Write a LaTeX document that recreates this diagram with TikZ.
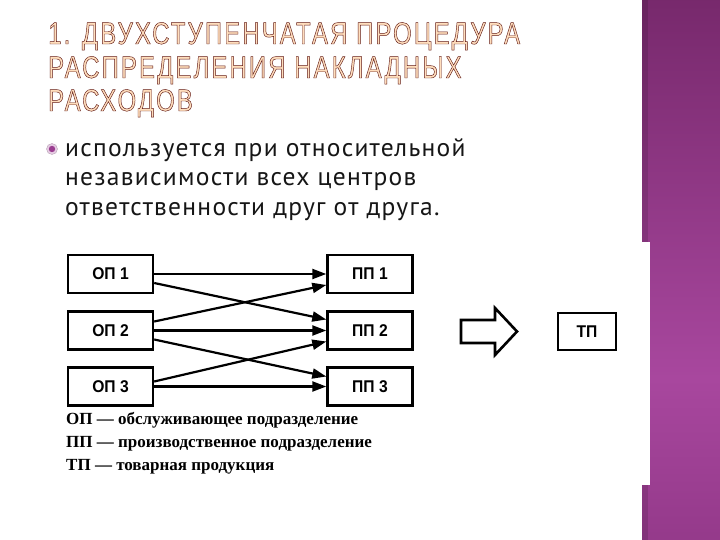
\documentclass[tikz,border=0pt]{standalone}
\usepackage{fontspec}
\setmainfont{Liberation Serif}
\newfontfamily\titlefont{Liberation Sans}[FakeStretch=0.77,LetterSpace=7]
\newfontfamily\bodyfont{PT Sans}[LetterSpace=5]
\newfontfamily\boxfont{Liberation Sans}[FakeStretch=0.92]
\usetikzlibrary{calc,arrows.meta}
\definecolor{ptop}{HTML}{420B3A}
\definecolor{pmidA}{HTML}{76286B}
\definecolor{pbright}{HTML}{A8479E}
\definecolor{pmidB}{HTML}{8E3584}
\definecolor{pbot}{HTML}{400936}
\definecolor{bodytext}{HTML}{161616}
\definecolor{bulletring}{HTML}{E6CCE3}
\definecolor{bulletdot}{HTML}{9A3D90}
\pgfdeclareverticalshading{purplebar}{100bp}{color(0bp)=(pbot); color(20bp)=(pmidB); color(40bp)=(pbright); color(76bp)=(pmidA); color(100bp)=(ptop)}
\newcommand{\outlineon}{\special{pdf:literal direct 2 Tr 0.45 w 0.38 0.10 0.08 RG 1.0 0.87 0.74 rg}}
\newcommand{\outlineoff}{\special{pdf:literal direct 0 Tr 0 g 0 G}}
\begin{document}
\begin{tikzpicture}[x=1pt,y=-1pt,
  titletext/.style={anchor=base west,inner sep=0pt,font=\titlefont\fontsize{31}{31}\selectfont},
  bodyline/.style={anchor=base west,inner sep=0pt,text=bodytext,font=\bodyfont\fontsize{25.5}{25.5}\selectfont},
  unitbox/.style={draw,line width=2.4pt,minimum width=85pt,minimum height=38pt,inner sep=0pt,font=\boxfont\bfseries\fontsize{17}{17}\selectfont},
  legend/.style={anchor=base west,inner sep=0pt,font=\bfseries\fontsize{17}{17}\selectfont},
  flow/.style={line width=2.2pt,-{Triangle[length=14pt,width=10pt]}},
  blockarrow/.style={draw,line width=2.6pt,line join=miter,fill=white}]
\useasboundingbox (0,0) rectangle (720,540);
\fill[white] (0,0) rectangle (720,540);
% purple side bar
\shade[shading=purplebar] (642,0) rectangle (720,540);
\fill[black,opacity=0.12] (642,0) rectangle (648,540);
\fill[white] (640,242) rectangle (650,485);
% title
\node[titletext] (t1) at (48,44) {\outlineon 1. ДВУХСТУПЕНЧАТАЯ ПРОЦЕДУРА\outlineoff};
\node[titletext] (t2) at (48,78) {\outlineon РАСПРЕДЕЛЕНИЯ НАКЛАДНЫХ\outlineoff};
\node[titletext] (t3) at (48,111) {\outlineon РАСХОДОВ\outlineoff};
% bullet
\node[circle,fill=bulletring,draw=bulletring!80!black,line width=0.4pt,minimum size=11pt,inner sep=0pt] (bul) at (52,149) {};
\fill[bulletdot] (bul.center) circle (3.2pt);
\node[bodyline] (b1) at (65,157) {используется при относительной};
\node[bodyline] (b2) at (65,186) {независимости всех центров};
\node[bodyline] (b3) at (65,215) {ответственности друг от друга.};
% diagram
\node[unitbox] (op1) at (110.5,274) {ОП 1};
\node[unitbox] (op2) at (110.5,330.5) {ОП 2};
\node[unitbox] (op3) at (110.5,386.5) {ОП 3};
\node[unitbox] (pp1) at (370,274) {ПП 1};
\node[unitbox] (pp2) at (370,330.5) {ПП 2};
\node[unitbox] (pp3) at (370,386.5) {ПП 3};
\node[unitbox,minimum width=58pt,minimum height=37pt] (tp) at (587,331.5) {ТП};
\draw[flow] (op1.east) -- (pp1.west);
\draw[flow] ($(op1.east)+(0,9)$) -- ($(pp2.west)+(0,-11)$);
\draw[flow] ($(op2.east)+(0,-9)$) -- ($(pp1.west)+(0,11)$);
\draw[flow] (op2.east) -- (pp2.west);
\draw[flow] ($(op2.east)+(0,9)$) -- ($(pp3.west)+(0,-10)$);
\draw[flow] ($(op3.east)+(0,-5)$) -- ($(pp2.west)+(0,11)$);
\draw[flow] (op3.east) -- (pp3.west);
% block arrow
\draw[blockarrow] (461,320) -- (495,320) -- (495,308) -- (517,331.5) -- (495,355) -- (495,343) -- (461,343) -- cycle;
% legend
\node[legend] (l1) at (66,424) {ОП — обслуживающее подразделение};
\node[legend] (l2) at (66,447) {ПП — производственное подразделение};
\node[legend] (l3) at (66,470) {ТП — товарная продукция};
\end{tikzpicture}
\end{document}
